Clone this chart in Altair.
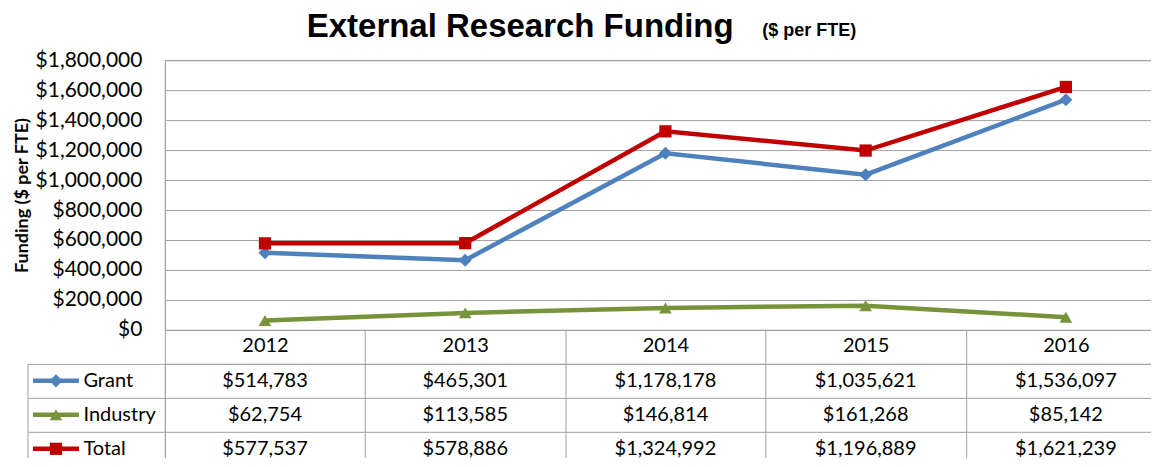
import altair as alt
import pandas as pd

years = ["2012", "2013", "2014", "2015", "2016"]
series_names = ["Grant", "Industry", "Total"]
grant = [514783, 465301, 1178178, 1035621, 1536097]
industry = [62754, 113585, 146814, 161268, 85142]
total = [577537, 578886, 1324992, 1196889, 1621239]
colors = ["#4F81BD", "#77933C", "#C00000"]
shapes = ["diamond", "triangle-up", "square"]
marker_sizes = [170, 150, 110]
y_ticks = [0, 200000, 400000, 600000, 800000, 1000000, 1200000, 1400000, 1600000, 1800000]

rows = []
for name, vals in zip(series_names, [grant, industry, total]):
    for yr, v in zip(years, vals):
        rows.append({"series": name, "year": yr, "value": v})
df = pd.DataFrame(rows)
legend_df = pd.DataFrame({"series": series_names})

FONT = "Lato"
TFONT = "Liberation Sans"
GRID = "#A0A0A0"
W = 1002
ROW = 34

color_scale = alt.Scale(domain=series_names, range=colors)
shape_scale = alt.Scale(domain=series_names, range=shapes)
size_scale = alt.Scale(domain=series_names, range=marker_sizes)
x_band = alt.Scale(type="band", domain=years, paddingInner=0, paddingOuter=0)

base = alt.Chart(df)

x_enc = alt.X(
    "year:N", scale=x_band, bandPosition=0.5, title=None,
    axis=alt.Axis(orient="bottom", tickBand="extent", ticks=True, tickSize=ROW,
                  tickColor=GRID, domainColor=GRID, labelFontSize=20,
                  labelColor="black", labelPadding=-28, labelAngle=0,
                  grid=False, labelFont=FONT),
)
y_enc = alt.Y(
    "value:Q", scale=alt.Scale(domain=[0, 1800000], nice=False),
    axis=alt.Axis(values=y_ticks, format="$,.0f", ticks=False, labelPadding=23,
                  labelFontSize=21, labelColor="black", labelFont=FONT,
                  gridColor=GRID, domainColor=GRID,
                  title="Funding ($ per FTE)", titleFontSize=18, titleFont=FONT,
                  titleFontWeight="bold", titleColor="black", titlePadding=4),
)

color_enc = alt.Color("series:N", scale=color_scale, legend=None)
shape_enc = alt.Shape("series:N", scale=shape_scale, legend=None)
size_enc = alt.Size("series:O", scale=size_scale, legend=None)

lines = base.mark_line(strokeWidth=4.5).encode(
    x=x_enc, y=y_enc, color=color_enc, order=alt.Order("year:N"),
)
points = base.mark_point(filled=True, opacity=1).encode(
    x=x_enc, y=y_enc, color=color_enc, shape=shape_enc, size=size_enc,
)
title_main = alt.Chart(pd.DataFrame({"t": ["External Research Funding"]})).mark_text(
    font=TFONT, fontSize=33, fontWeight="bold", align="left", baseline="alphabetic", color="black"
).encode(text="t:N", x=alt.value(142), y=alt.value(-23))
title_sub = alt.Chart(pd.DataFrame({"t": ["($ per FTE)"]})).mark_text(
    font=TFONT, fontSize=18, fontWeight="bold", align="left", baseline="alphabetic", color="black"
).encode(text="t:N", x=alt.value(598), y=alt.value(-24))

top = alt.layer(lines, points, title_main, title_sub).properties(width=W, height=270)

# table
tx = alt.X(
    "year:N", scale=x_band, bandPosition=0.5, title=None,
    axis=alt.Axis(orient="top", labels=False, ticks=False, domain=False, grid=True,
                  tickBand="extent", gridColor=GRID),
)
ty = alt.Y(
    "series:N", scale=alt.Scale(type="band", domain=series_names, paddingInner=0, paddingOuter=0),
    bandPosition=0.5, title=None,
    axis=alt.Axis(tickBand="extent", grid=True, gridColor=GRID, ticks=True, tickSize=137,
                  tickColor=GRID, domain=False, labelAlign="left", labelPadding=-55,
                  labelFontSize=20, labelColor="black", labelFont=FONT),
)
cells = base.mark_text(font=FONT, fontSize=20, color="black", align="center", baseline="middle").encode(
    x=tx, y=ty, text=alt.Text("value:Q", format="$,.0f"),
)
leg_lines = alt.Chart(legend_df).mark_rule(strokeWidth=4.5).encode(
    y=ty, x=alt.value(-132), x2=alt.value(-86), color=color_enc,
)
leg_points = alt.Chart(legend_df).mark_point(filled=True, opacity=1).encode(
    y=ty, x=alt.value(-109), color=color_enc, shape=shape_enc, size=size_enc,
)
border = alt.Chart(pd.DataFrame({"a": [0]})).mark_rule(color=GRID, strokeWidth=1).encode(
    x=alt.value(-137), y=alt.value(0), y2=alt.value(3 * ROW),
)
table = alt.layer(cells, leg_lines, leg_points, border).properties(width=W, height=3 * ROW)

chart = alt.vconcat(top, table, spacing=ROW, bounds="flush").configure_view(
    stroke=GRID
).properties(padding={"left": 4, "top": 2, "right": -16, "bottom": -9})

chart.save("out.html", embed_options={"renderer": "svg", "actions": False})
